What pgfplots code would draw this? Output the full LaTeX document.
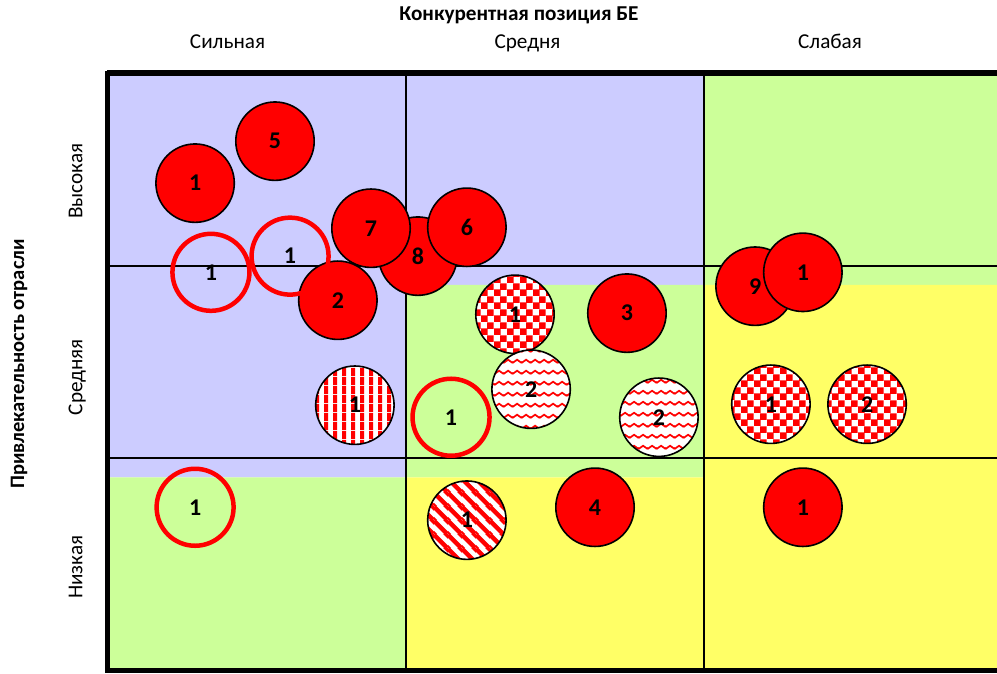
\documentclass[border=0pt]{standalone}
\usepackage{fontspec}
\setmainfont{Carlito}
\usepackage{pgfplots}
\pgfplotsset{compat=1.18}
\usetikzlibrary{patterns}
\definecolor{zblue}{HTML}{CCCCFF}
\definecolor{zgreen}{HTML}{CCFF99}
\definecolor{zyellow}{HTML}{FFFF66}
\definecolor{bred}{HTML}{FF0000}

% patterns
\pgfdeclarepatternformonly{mycheck}{\pgfqpoint{0pt}{0pt}}{\pgfqpoint{13pt}{13pt}}{\pgfqpoint{13pt}{13pt}}{%
  \pgfpathrectangle{\pgfqpoint{0pt}{0pt}}{\pgfqpoint{7pt}{7pt}}%
  \pgfpathrectangle{\pgfqpoint{6.5pt}{6.5pt}}{\pgfqpoint{7pt}{7pt}}%
  \pgfusepath{fill}}
\pgfdeclarepatternformonly{mywave}{\pgfqpoint{0pt}{0pt}}{\pgfqpoint{9pt}{10.5pt}}{\pgfqpoint{9pt}{10.5pt}}{%
  \pgfsetlinewidth{1.8pt}%
  \pgfpathmoveto{\pgfqpoint{-4.5pt}{6.5pt}}\pgfpathlineto{\pgfqpoint{0pt}{3.5pt}}%
  \pgfpathlineto{\pgfqpoint{4.5pt}{6.5pt}}\pgfpathlineto{\pgfqpoint{9pt}{3.5pt}}%
  \pgfpathlineto{\pgfqpoint{13.5pt}{6.5pt}}%
  \pgfusepath{stroke}}
\pgfdeclarepatternformonly{myvert}{\pgfqpoint{0pt}{0pt}}{\pgfqpoint{9pt}{9pt}}{\pgfqpoint{9pt}{9pt}}{%
  \pgfpathrectangle{\pgfqpoint{0pt}{0pt}}{\pgfqpoint{4.5pt}{9pt}}\pgfusepath{fill}}
\pgfdeclarepatternformonly{mydiag}{\pgfqpoint{0pt}{0pt}}{\pgfqpoint{14pt}{14pt}}{\pgfqpoint{14pt}{14pt}}{%
  \pgfsetlinewidth{4.8pt}%
  \pgfpathmoveto{\pgfqpoint{-14pt}{14pt}}\pgfpathlineto{\pgfqpoint{14pt}{-14pt}}%
  \pgfpathmoveto{\pgfqpoint{0pt}{14pt}}\pgfpathlineto{\pgfqpoint{14pt}{0pt}}%
  \pgfpathmoveto{\pgfqpoint{0pt}{28pt}}\pgfpathlineto{\pgfqpoint{28pt}{0pt}}%
  \pgfusepath{stroke}}

% bubble marks with pattern on white
\newcommand\declbub[2]{%
  \pgfdeclareplotmark{#1}{%
    \pgfpathcircle{\pgfpointorigin}{\pgfplotmarksize}%
    \pgfsetfillcolor{white}\pgfusepathqfill
    \begin{pgfscope}%
      \pgfpathcircle{\pgfpointorigin}{\pgfplotmarksize}%
      \pgfsetfillpattern{#2}{bred}\pgfusepathqfill
    \end{pgfscope}%
    \pgfpathcircle{\pgfpointorigin}{\pgfplotmarksize}%
    \pgfusepathqstroke}}
\declbub{bubcheck}{mycheck}
\declbub{bubwave}{mywave}
\declbub{bubvert}{myvert}
\declbub{bubdiag}{mydiag}

\newcommand\numfont{\bfseries\fontsize{24}{26}\selectfont}
\newcommand\lblfont{\fontsize{21.2}{24}\selectfont}

\begin{document}
\begin{tikzpicture}
\begin{axis}[
  at={(107pt,3pt)}, anchor=south west,
  width=890pt, height=597pt, scale only axis,
  xmin=0, xmax=2.98, ymin=-0.1, ymax=3,
  clip=false,
  axis line style={draw=none},
  major tick length=0pt,
  xtick={0.4035,1.408,2.421},
  xticklabels={Сильная,Средня,Слабая},
  xticklabel pos=upper,
  xticklabel style={anchor=center, font=\lblfont, text height=14pt, text depth=4pt},
  xticklabel shift=29.5pt,
  ytick={0.4335,1.420,2.438},
  yticklabels={Низкая,Средняя,Высокая},
  yticklabel style={anchor=center, rotate=90, font=\lblfont, text height=14pt, text depth=4pt},
  yticklabel shift=29.5pt,
  nodes near coords,
  point meta=explicit symbolic,
  nodes near coords style={anchor=center, font=\numfont, text=black, inner sep=0pt},
]
% background zones
\addplot[fill=zblue, draw=none] coordinates {(0,0.9) (1,0.9) (1,1.9) (2,1.9) (2,3) (0,3)} -- cycle;
\addplot[fill=zgreen, draw=none] coordinates {(0,-0.1) (1,-0.1) (1,0.9) (2,0.9) (2,1.9) (2.98,1.9) (2.98,3) (2,3) (2,1.9) (1,1.9) (1,0.9) (0,0.9)} -- cycle;
\addplot[fill=zyellow, draw=none] coordinates {(1,-0.1) (2.98,-0.1) (2.98,1.9) (2,1.9) (2,0.9) (1,0.9)} -- cycle;
% grid lines
\draw[line width=2pt] (axis cs:1,-0.1) -- (axis cs:1,3);
\draw[line width=2pt] (axis cs:2,-0.1) -- (axis cs:2,3);
\draw[line width=2pt] (axis cs:0,1) -- (axis cs:2.98,1);
\draw[line width=2pt] (axis cs:0,2) -- (axis cs:2.98,2);
% borders
\draw[line width=5.5pt] (axis cs:0,3) -- (axis cs:2.98,3);
\draw[line width=5pt] (axis cs:0,-0.1) -- (axis cs:2.98,-0.1);
\draw[line width=5pt] (axis cs:0,-0.115) -- (axis cs:0,3.012);

% filled red bubbles
\addplot[only marks, mark=*, mark size=39.2pt, mark options={fill=bred, draw=black, line width=1.6pt}]
  table[meta=l] {
x y l
1.041 2.049 8
0.884 2.194 7
1.205 2.199 6
0.773 1.820 2
0.295 2.428 1
0.5625 2.646 5
1.741 1.753 3
2.170 1.893 9
2.330 1.965 1
1.634 0.745 4
2.330 0.745 1
};
% open rings
\addplot[only marks, mark=o, mark size=38.5pt, mark options={draw=bred, line width=4.5pt, fill=none}]
  table[meta=l] {
x y l
0.348 1.965 1
0.613 2.049 1
1.152 1.2125 1
0.295 0.745 1
};
% checkered
\addplot[only marks, mark=bubcheck, mark size=39.2pt, mark options={draw=black, line width=1.6pt}]
  table[meta=l] {
x y l
1.366 1.747 1
2.223 1.280 1
2.545 1.280 2
};
% wavy
\addplot[only marks, mark=bubwave, mark size=39.2pt, mark options={draw=black, line width=1.6pt}]
  table[meta=l] {
x y l
1.420 1.358 2
1.848 1.2125 2
};
% vertical stripes
\addplot[only marks, mark=bubvert, mark size=39.2pt, mark options={draw=black, line width=1.6pt}]
  table[meta=l] {
x y l
0.830 1.275 1
};
% diagonal stripes
\addplot[only marks, mark=bubdiag, mark size=39.2pt, mark options={draw=black, line width=1.6pt}]
  table[meta=l] {
x y l
1.205 0.678 1
};
\end{axis}
\node[font=\bfseries\fontsize{21.2}{24}\selectfont] at (519pt,658pt) {Конкурентная позиция БЕ};
\node[font=\bfseries\fontsize{20.5}{24}\selectfont, rotate=90] at (19pt,309pt) {Привлекательность отрасли};
\pgfresetboundingbox
\path[use as bounding box] (0,0) rectangle (997pt,673pt);
\end{tikzpicture}
\end{document}
